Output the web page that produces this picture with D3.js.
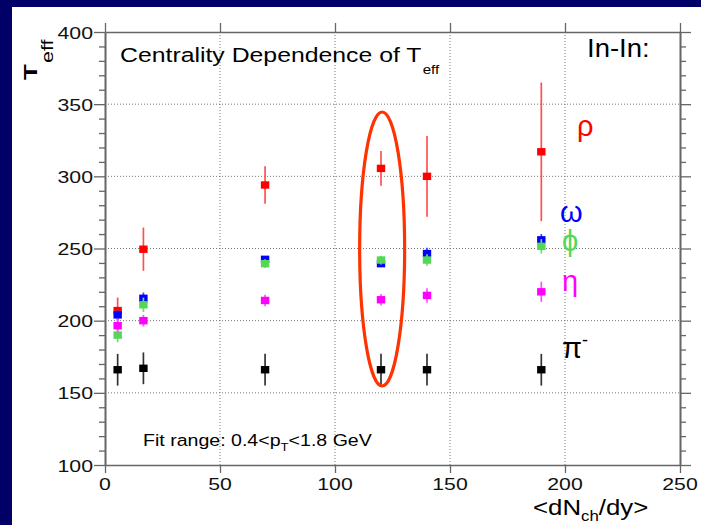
<!DOCTYPE html>
<html>
<head>
<meta charset="utf-8">
<script src="https://cdn.jsdelivr.net/npm/d3@7"></script>
<style>
  body { margin: 0; background: #000066; }
  svg { display: block; }
  text { font-family: "Liberation Sans", Arial, sans-serif; }
</style>
</head>
<body>
<div id="chart"></div>
<script>
// chart data: <dN_ch/dy> and T_eff for each meson
const nch = [5.5, 16.7, 69.6, 120, 140, 189.7];
const rho = [207, 249.5, 294, 305.5, 300, 317];
const rhoErr = [9, 15, 13, 12, 28, 48];
const omega = [204, 215.5, 242.5, 239.5, 246.5, 256];
const omegaErr = [4, 4, 2, 2, 4, 4];
const phi = [190, 211, 239.5, 242, 242, 251.5];
const phiErr = [5, 5, 3, 3, 4, 5];
const eta = [196.5, 200, 214, 214.5, 217.5, 220];
const etaErr = [5, 4, 4, 4, 5, 7];
const pion = [166, 167, 166, 166, 166, 166];
const pionErr = [11, 11, 11, 11, 11, 11];
const xTicks = [0, 50, 100, 150, 200, 250];
const yTicks = [100, 150, 200, 250, 300, 350, 400];

const width = 701, height = 525;

const svg = d3.select("#chart").append("svg")
    .attr("width", width)
    .attr("height", height);

// white slide panel
svg.append("rect")
    .attr("x", 12).attr("y", 7)
    .attr("width", width - 12).attr("height", height - 7)
    .attr("fill", "#fff");

const x = d3.scaleLinear().domain([0, 250]).range([105, 680]);
const y = d3.scaleLinear().domain([100, 400]).range([465, 32]);

// the picture is stretched sideways, so text gets a small x-scale
function label(parent, px, py, sx, opts) {
  opts = opts || {};
  const g = parent.append("g")
      .attr("transform", `translate(${px},${py}) scale(${sx},1)`);
  return g.append("text")
      .attr("text-anchor", opts.anchor || "start")
      .attr("font-size", opts.size || 17)
      .attr("fill", opts.fill || "#000");
}

// grid
const grid = svg.append("g")
    .attr("stroke", "#777")
    .attr("stroke-width", 1)
    .attr("stroke-dasharray", "1,2");
grid.selectAll(".gx").data([50, 100, 150, 200]).join("line")
    .attr("x1", d => x(d)).attr("x2", d => x(d))
    .attr("y1", y(100)).attr("y2", y(400));
grid.selectAll(".gy").data([150, 200, 250, 300, 350]).join("line")
    .attr("x1", x(0)).attr("x2", x(250))
    .attr("y1", d => y(d)).attr("y2", d => y(d));

// axes
const minorY = d3.range(100, 401, 10).filter(v => v % 50 !== 0);
function styleAxis(g) {
  g.select(".domain").attr("stroke", "#666").attr("stroke-width", 1.6);
  g.selectAll(".tick line").attr("stroke", "#666").attr("stroke-width", 1.3);
  g.selectAll(".tick text").remove();
}
svg.append("g").attr("transform", `translate(${x(0)},0)`)
    .call(d3.axisLeft(y).tickValues(yTicks).tickSize(11).tickSizeOuter(0)).call(styleAxis);
svg.append("g").attr("transform", `translate(${x(0)},0)`)
    .call(d3.axisLeft(y).tickValues(minorY).tickSize(6).tickSizeOuter(0)).call(styleAxis);
svg.append("g").attr("transform", `translate(${x(250)},0)`)
    .call(d3.axisRight(y).tickValues(yTicks).tickSize(11).tickSizeOuter(0)).call(styleAxis);
svg.append("g").attr("transform", `translate(${x(250)},0)`)
    .call(d3.axisRight(y).tickValues(minorY).tickSize(6).tickSizeOuter(0)).call(styleAxis);
svg.append("g").attr("transform", `translate(0,${y(100)})`)
    .call(d3.axisBottom(x).tickValues(xTicks).tickSize(8).tickSizeOuter(0)).call(styleAxis);
svg.append("g").attr("transform", `translate(0,${y(400)})`)
    .call(d3.axisTop(x).tickValues(xTicks).tickSize(9).tickSizeOuter(0)).call(styleAxis);

// tick labels
yTicks.forEach(v => {
  label(svg, 93, y(v) + 6.5, 1.25, {anchor: "end", size: 17, fill: "#111"}).text(v);
});
xTicks.forEach(v => {
  label(svg, x(v), 490, 1.25, {anchor: "middle", size: 17, fill: "#111"}).text(v);
});

// series
const series = [
  {vals: rho, err: rhoErr, color: "#ff0000", bar: "#ff5050"},
  {vals: omega, err: omegaErr, color: "#0000ff", bar: "#4040ff"},
  {vals: phi, err: phiErr, color: "#55d655", bar: "#70dd70"},
  {vals: eta, err: etaErr, color: "#ff00ff", bar: "#ff50ff"},
  {vals: pion, err: pionErr, color: "#000000", bar: "#333333"}
];
const mw = 8.4, mh = 7.4;
series.forEach(s => {
  const g = svg.append("g");
  const pts = nch.map((n, i) => ({n: n, v: s.vals[i], e: s.err[i]}));
  g.selectAll("line").data(pts).join("line")
      .attr("x1", d => x(d.n)).attr("x2", d => x(d.n))
      .attr("y1", d => y(d.v - d.e)).attr("y2", d => y(d.v + d.e))
      .attr("stroke", s.bar).attr("stroke-width", 1.7);
  g.selectAll("rect").data(pts).join("rect")
      .attr("x", d => x(d.n) - mw / 2).attr("y", d => y(d.v) - mh / 2)
      .attr("width", mw).attr("height", mh)
      .attr("fill", s.color);
});

// ellipse round the central point
svg.append("ellipse")
    .attr("cx", x(120.5)).attr("cy", 249)
    .attr("rx", 22.5).attr("ry", 137)
    .attr("fill", "none")
    .attr("stroke", "#ff3300")
    .attr("stroke-width", 3.2);

// titles
const t1 = label(svg, 120, 62, 1.21, {size: 20.5});
t1.append("tspan").text("Centrality Dependence of T");
t1.append("tspan").attr("font-size", 12.5).attr("dy", 12).attr("dx", 1).text("eff");

label(svg, 587, 57, 1.1, {size: 25}).text("In-In:");

const t2 = label(svg, 143, 446, 1.2, {size: 16.3});
t2.append("tspan").text("Fit range: 0.4<p");
t2.append("tspan").attr("font-size", 11).attr("dy", 5).text("T");
t2.append("tspan").attr("dy", -5).text("<1.8 GeV");

const xt = label(svg, 533, 515, 1.2, {size: 21.5});
xt.append("tspan").text("<dN");
xt.append("tspan").attr("font-size", 14).attr("dy", 6).text("ch");
xt.append("tspan").attr("dy", -6).text("/dy>");

// y title, rotated
const yg = svg.append("g").attr("transform", "translate(37,80) rotate(-90) scale(1.35,1)");
yg.append("text").attr("font-size", 19).attr("font-weight", "bold").text("T");
yg.append("text").attr("x", 17 / 1.35).attr("y", 16).attr("font-size", 16).text("eff");

// particle labels
const greek = [
  {t: "ρ", x: 577, y: 136, c: "#ff0000"},
  {t: "ω", x: 560, y: 222, c: "#0000ff"},
  {t: "ϕ", x: 562, y: 251, c: "#55d655"},
  {t: "η", x: 562, y: 291, c: "#ff00ff"},
  {t: "π", x: 562, y: 358, c: "#000000"}
];
greek.forEach(d => {
  const t = svg.append("text")
      .attr("x", d.x).attr("y", d.y)
      .attr("font-family", "'Liberation Serif', 'DejaVu Serif', serif")
      .attr("font-size", 29)
      .attr("fill", d.c)
      .text(d.t);
  if (d.t === "π") t.append("tspan").attr("font-size", 18).attr("dy", -12).text("-");
});
</script>
</body>
</html>
